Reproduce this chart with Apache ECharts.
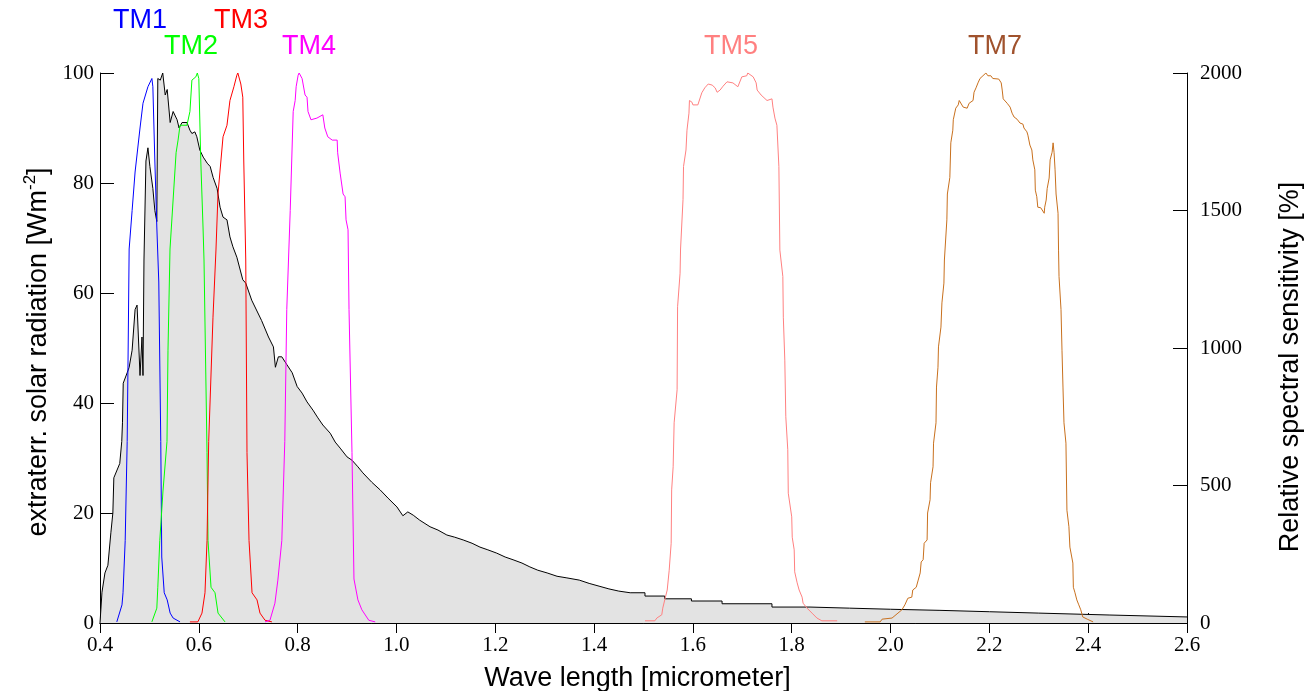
<!DOCTYPE html>
<html>
<head>
<meta charset="utf-8">
<script src="https://cdn.jsdelivr.net/npm/echarts@6/dist/echarts.min.js"></script>
<style>
  html, body { margin: 0; padding: 0; background: #fff; }
  #chart { width: 1304px; height: 691px; }
</style>
</head>
<body>
<div id="chart"></div>
<script>
// extraterrestrial solar radiation (Wm-2)
const solarX = [0.400, 0.403, 0.404, 0.410, 0.416, 0.422, 0.426, 0.428, 0.440, 0.444, 0.4455, 0.447, 0.455, 0.459, 0.465, 0.471, 0.475, 0.481, 0.485, 0.487,
  0.489, 0.493, 0.497, 0.501, 0.507, 0.511, 0.515, 0.517, 0.522, 0.527, 0.532, 0.536, 0.542, 0.548, 0.556, 0.560, 0.566, 0.570, 0.576, 0.582,
  0.586, 0.592, 0.596, 0.602, 0.609, 0.617, 0.623, 0.629, 0.637, 0.643, 0.649, 0.657, 0.663, 0.669, 0.677, 0.689, 0.695, 0.707, 0.727, 0.741,
  0.751, 0.755, 0.761, 0.768, 0.778, 0.789, 0.799, 0.809, 0.819, 0.831, 0.841, 0.851, 0.866, 0.876, 0.886, 0.900, 0.910, 0.922, 0.932, 0.950,
  0.967, 0.983, 1.001, 1.013, 1.023, 1.034, 1.047, 1.068, 1.084, 1.102, 1.118, 1.135, 1.153, 1.169, 1.185, 1.203, 1.220, 1.236, 1.254, 1.270,
  1.286, 1.305, 1.325, 1.345, 1.370, 1.390, 1.410, 1.430, 1.450, 1.473, 1.503, 1.503, 1.543, 1.543, 1.597, 1.597, 1.659, 1.659, 1.760, 1.760,
  1.837, 1.917, 2.000, 2.100, 2.200, 2.300, 2.444, 2.600]
const solarY = [0, 0, 5.6, 9.1, 10.5, 16.4, 20, 26.4, 29, 33, 36.4, 43.6, 45.5, 46.5, 49.6, 57, 57.8, 45, 52, 45,
  66, 84, 86.4, 83, 79, 75, 73, 99, 98.7, 100, 96, 97, 91, 93, 91.5, 90, 91, 91, 91, 89.6,
  89, 89.3, 88.4, 86, 84.7, 83.6, 83, 81, 79, 75.6, 73.8, 73.3, 70.2, 68.4, 66.5, 62.4, 61.8, 58.7, 55, 52,
  50.2, 46.5, 48.4, 48.4, 47, 45.5, 43, 41.8, 40.2, 38.7, 37.3, 36, 34.5, 32.9, 31.8, 30.2, 29.6, 28.4, 27.3, 25.6,
  24.2, 22.7, 21.1, 19.5, 20.2, 19.6, 18.7, 17.5, 16.9, 16, 15.6, 15.1, 14.5, 13.8, 13.3, 12.7, 12, 11.5, 10.9, 10.2,
  9.6, 9.1, 8.5, 8.2, 7.8, 7.2, 6.7, 6.2, 5.8, 5.5, 5.5, 4.9, 4.9, 4.4, 4.4, 4.0, 4.0, 3.5, 3.5, 2.9,
  2.9, 2.7, 2.5, 2.3, 2.05, 1.8, 1.45, 1.1]

// Landsat TM band responses (%)
const tm1X = [0.434, 0.4445, 0.4466, 0.451, 0.455, 0.457, 0.459, 0.465, 0.471, 0.481, 0.487, 0.497, 0.505, 0.507, 0.511, 0.515, 0.519, 0.523, 0.525, 0.530, 0.536, 0.542, 0.548, 0.562]
const tm1Y = [0.2, 3.3, 5.5, 15, 33, 50, 68, 75, 82, 90, 94.5, 97.5, 99, 97.5, 84, 72, 62, 33, 12, 5.5, 4.2, 1.8, 0.9, 0.2]

const tm2X = [0.505, 0.515, 0.517, 0.521, 0.5275, 0.5356, 0.5376, 0.5417, 0.554, 0.558, 0.562, 0.576, 0.582, 0.586, 0.594, 0.597, 0.600, 0.604, 0.6085, 0.6105, 0.6166, 0.6186, 0.6247, 0.6328, 0.6389, 0.653]
const tm2Y = [0.2, 2.7, 6.5, 15, 24, 33, 49.6, 68, 85.5, 87.8, 90.5, 90.5, 93, 98.7, 99.3, 100, 99, 84, 72, 66, 31, 15, 6.5, 5.5, 1.8, 0.2]

const tm3X = [0.582, 0.598, 0.6064, 0.6125, 0.6166, 0.620, 0.6287, 0.6348, 0.6388, 0.649, 0.657, 0.663, 0.671, 0.677, 0.679, 0.685, 0.689, 0.691, 0.695, 0.6975, 0.7016, 0.7077, 0.7178, 0.7238, 0.734, 0.748]
const tm3Y = [0.2, 0.2, 1.8, 5.5, 15, 33, 55.6, 68, 78, 88.4, 90.5, 95, 97.5, 99.6, 100, 98, 95.6, 84, 66, 31, 15, 5.5, 4.2, 1.8, 0.5, 0.2]

const tm4X = [0.734, 0.744, 0.754, 0.760, 0.768, 0.774, 0.778, 0.785, 0.791, 0.795, 0.797, 0.801, 0.803, 0.809, 0.815, 0.819, 0.821, 0.827, 0.839, 0.851, 0.855, 0.861, 0.870, 0.880, 0.881, 0.886, 0.892, 0.896, 0.898, 0.902, 0.904, 0.910, 0.914, 0.922, 0.930, 0.944, 0.957]
const tm4Y = [0.2, 0.5, 3.6, 7.8, 15, 33, 57, 75, 93, 95, 97.5, 99.6, 100, 99, 96, 95.6, 93, 91.5, 91.8, 92.4, 90, 88.4, 87.8, 87.8, 85.5, 81.8, 78, 77.5, 73.3, 71.5, 57, 31, 8, 4.2, 2.4, 0.5, 0.2]

const tm5X = [1.503, 1.523, 1.527, 1.537, 1.539, 1.543, 1.548, 1.552, 1.556, 1.557, 1.560, 1.562, 1.568, 1.569, 1.574, 1.575, 1.580, 1.581, 1.586, 1.588,
  1.592, 1.593, 1.598, 1.600, 1.610, 1.614, 1.618, 1.624, 1.631, 1.639, 1.645, 1.649, 1.655, 1.661, 1.669, 1.681, 1.691, 1.699, 1.709, 1.711,
  1.722, 1.728, 1.730, 1.738, 1.750, 1.760, 1.762, 1.766, 1.770, 1.774, 1.776, 1.782, 1.783, 1.786, 1.788, 1.792, 1.793, 1.800, 1.801, 1.805,
  1.806, 1.811, 1.815, 1.821, 1.823, 1.831, 1.841, 1.851, 1.861, 1.892]
const tm5Y = [0.4, 0.4, 0.9, 1.5, 2.7, 4.2, 6, 9.6, 14.5, 24.2, 28.4, 36.4, 42.4, 57.5, 63.6, 68, 77, 83, 86, 89.6,
  92.7, 95, 94.7, 94.2, 94.2, 94.5, 96.4, 97.3, 98, 97.8, 97.3, 96.5, 96.9, 97.6, 98.4, 98.2, 97.5, 99.3, 99.5, 100,
  99.3, 98.2, 96.9, 96, 95, 95.3, 93.8, 91.8, 90.5, 83, 67.8, 63, 55.6, 47.8, 37.5, 31.5, 23.6, 19.3, 15.6, 13.3,
  9.3, 7.3, 6, 4.7, 3.6, 2.7, 1.8, 0.9, 0.4, 0.4]

const tm7X = [1.948, 1.979, 1.983, 2.003, 2.015, 2.023, 2.029, 2.035, 2.043, 2.045, 2.052, 2.056, 2.060, 2.062, 2.066, 2.068, 2.074, 2.075, 2.080, 2.081,
  2.086, 2.087, 2.092, 2.093, 2.096, 2.097, 2.102, 2.104, 2.108, 2.109, 2.114, 2.115, 2.120, 2.122, 2.126, 2.127, 2.132, 2.137, 2.139, 2.143,
  2.147, 2.155, 2.159, 2.167, 2.169, 2.173, 2.177, 2.181, 2.187, 2.193, 2.197, 2.203, 2.207, 2.219, 2.224, 2.226, 2.228, 2.232, 2.236, 2.242,
  2.246, 2.250, 2.256, 2.262, 2.268, 2.270, 2.276, 2.278, 2.282, 2.286, 2.288, 2.292, 2.293, 2.296, 2.298, 2.304, 2.308, 2.311, 2.312, 2.315,
  2.317, 2.321, 2.323, 2.327, 2.329, 2.331, 2.333, 2.335, 2.339, 2.340, 2.341, 2.345, 2.347, 2.349, 2.351, 2.355, 2.357, 2.361, 2.363, 2.369,
  2.370, 2.373, 2.377, 2.381, 2.385, 2.389, 2.398, 2.410]
const tm7Y = [0.2, 0.2, 0.7, 0.9, 1.8, 2.4, 3.3, 4.5, 4.7, 6, 6.5, 7.8, 9.1, 11.1, 11.5, 14.5, 15.1, 20, 22.4, 25.5,
  28.4, 32.7, 36.4, 42.9, 46.5, 50.2, 53.8, 58.2, 61.8, 66, 73.3, 78, 81, 87.3, 89.6, 91.5, 93.6, 94.2, 95, 94.7,
  93.8, 93.6, 94.5, 95, 96.5, 97.3, 98.2, 99, 99.5, 100, 99.5, 99.5, 99, 98.9, 98.2, 96.9, 95.3, 95, 94.5, 93.8,
  92.7, 92, 91.6, 90.9, 90.7, 90, 89.3, 88.7, 86.9, 86, 84.2, 82.4, 78.7, 77.5, 75.6, 75.5, 75.5, 74.5, 75.6, 76.9,
  79, 80.9, 84.2, 85.6, 87.3, 85.5, 82.4, 78, 74.5, 67.8, 63, 57, 49.6, 42.9, 36.4, 32.7, 20.5, 17.5, 13.8, 10.9,
  6.5, 5.6, 4.2, 3.3, 2.4, 1.1, 0.7, 0.2]

const pairs = (xs, ys) => xs.map((x, i) => [x, ys[i]])

const serif = '"Liberation Serif", "DejaVu Serif", serif'
const sans = '"Liberation Sans", Arial, sans-serif'

// band colours and label positions above the plot
const bands = [
  { name: 'TM1', x: tm1X, y: tm1Y, color: '#0000ff', text: '#0000ff', lx: 140, ly: 21 },
  { name: 'TM2', x: tm2X, y: tm2Y, color: '#00ff00', text: '#00ff00', lx: 191, ly: 47 },
  { name: 'TM3', x: tm3X, y: tm3Y, color: '#ff0000', text: '#ff0000', lx: 241, ly: 21 },
  { name: 'TM4', x: tm4X, y: tm4Y, color: '#ff00ff', text: '#ff00ff', lx: 309, ly: 47 },
  { name: 'TM5', x: tm5X, y: tm5Y, color: '#ff8080', text: '#ff8080', lx: 731, ly: 47 },
  { name: 'TM7', x: tm7X, y: tm7Y, color: '#c8701e', text: '#a0522d', lx: 995, ly: 47 }
]

const chart = echarts.init(document.getElementById('chart'))

chart.setOption({
  animation: false,
  backgroundColor: '#fff',
  grid: { left: 100, right: 117, top: 73, bottom: 68, outerBoundsMode: 'none', containLabel: false },
  xAxis: [
    {
      type: 'value',
      min: 0.4, max: 2.6, interval: 0.2,
      name: 'Wave length [micrometer]',
      nameLocation: 'middle',
      nameGap: 42,
      nameTextStyle: { fontFamily: sans, fontSize: 27, color: '#000', padding: [0, 12, 0, 0] },
      axisLine: { lineStyle: { color: '#000', width: 1 } },
      axisTick: { inside: true, length: 10, lineStyle: { color: '#000' } },
      axisLabel: { fontFamily: serif, fontSize: 21, color: '#000', margin: 12, formatter: v => v.toFixed(1) },
      splitLine: { show: false }
    },
    {
      // mirrored frame on top
      type: 'value',
      position: 'top',
      min: 0.4, max: 2.6, interval: 0.2,
      axisLine: { lineStyle: { color: '#000', width: 1 } },
      axisTick: { inside: true, length: 10, lineStyle: { color: '#000' } },
      axisLabel: { show: false },
      splitLine: { show: false }
    }
  ],
  yAxis: [
    {
      type: 'value',
      min: 0, max: 100, interval: 20,
      name: 'extraterr. solar radiation [Wm{sup|-2}]',
      nameLocation: 'middle',
      nameGap: 45,
      nameTextStyle: {
        fontFamily: sans, fontSize: 27, color: '#000', padding: [0, 8, 0, 0],
        rich: { sup: { fontFamily: sans, fontSize: 17, color: '#000', padding: [0, 0, 15, 0] } }
      },
      axisLine: { show: true, lineStyle: { color: '#000', width: 1 } },
      axisTick: { show: true, inside: true, length: 14, lineStyle: { color: '#000' } },
      axisLabel: { fontFamily: serif, fontSize: 21, color: '#000', margin: 6 },
      splitLine: { show: false }
    },
    {
      type: 'value',
      position: 'right',
      min: 0, max: 2000, interval: 500,
      name: 'Relative spectral sensitivity [%]',
      nameLocation: 'middle',
      nameGap: 90,
      nameTextStyle: { fontFamily: sans, fontSize: 27, color: '#000', padding: [0, 38, 0, 0] },
      axisLine: { show: true, lineStyle: { color: '#000', width: 1 } },
      axisTick: { show: true, inside: true, length: 14, lineStyle: { color: '#000' } },
      axisLabel: { fontFamily: serif, fontSize: 21, color: '#000', margin: 13, formatter: v => String(v) },
      splitLine: { show: false }
    }
  ],
  graphic: bands.map(b => ({
    type: 'text',
    x: b.lx,
    y: b.ly,
    style: { text: b.name, fill: b.text, font: '27px ' + sans, align: 'center', verticalAlign: 'middle' }
  })),
  series: [
    {
      name: 'solar',
      type: 'line',
      data: pairs(solarX, solarY),
      showSymbol: false,
      lineStyle: { color: '#000', width: 1 },
      areaStyle: { color: '#e3e3e3', opacity: 1 },
      z: 1
    },
    ...bands.map(b => ({
      name: b.name,
      type: 'line',
      data: pairs(b.x, b.y),
      showSymbol: false,
      lineStyle: { color: b.color, width: 1 },
      z: 2
    }))
  ]
})
</script>
</body>
</html>
